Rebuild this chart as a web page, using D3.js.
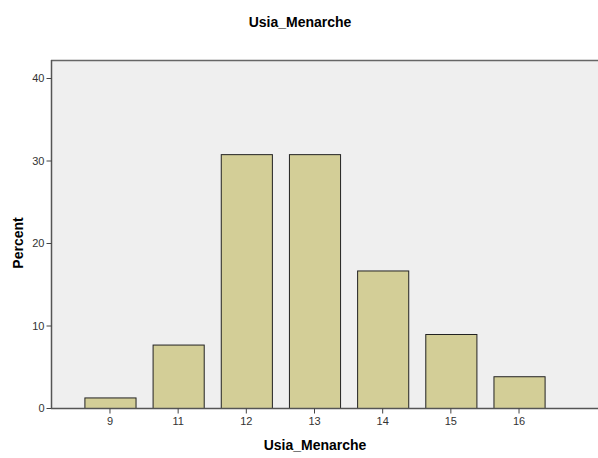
<!DOCTYPE html>
<html>
<head>
<meta charset="utf-8">
<script src="https://cdn.jsdelivr.net/npm/d3@7"></script>
<style>
  body { margin: 0; background: #fff; }
  text { font-family: Arial, "Liberation Sans", sans-serif; }
</style>
</head>
<body>
<svg width="598" height="458"></svg>
<script>
var categories = ["9", "11", "12", "13", "14", "15", "16"],
    percents = [1.28, 7.69, 30.77, 30.77, 16.67, 8.97, 3.85],
    yTicks = [0, 10, 20, 30, 40];

var svg = d3.select("svg"),
    plotLeft = 51, plotTop = 60, plotBottom = 408, plotRight = 598;

var x = d3.scaleBand()
    .domain(categories)
    .range([plotLeft, 578])
    .paddingInner(0.25)
    .paddingOuter(0.49);

var y = d3.scaleLinear()
    .domain([0, 40])
    .range([plotBottom, 78]);

// plot background
svg.append("rect")
    .attr("x", plotLeft).attr("y", plotTop)
    .attr("width", plotRight - plotLeft + 2).attr("height", plotBottom - plotTop)
    .attr("fill", "#efefef");

// frame top
svg.append("line")
    .attr("x1", plotLeft).attr("x2", plotRight)
    .attr("y1", plotTop + 0.5).attr("y2", plotTop + 0.5)
    .attr("stroke", "#666").attr("stroke-width", 1.5);

// bars
svg.append("g").selectAll("rect")
    .data(percents)
    .enter().append("rect")
    .attr("x", function(d, i) { return x(categories[i]) + 0.5; })
    .attr("y", function(d) { return y(d) + 0.5; })
    .attr("width", x.bandwidth())
    .attr("height", function(d) { return plotBottom - y(d); })
    .attr("fill", "#d3ce97")
    .attr("stroke", "#222")
    .attr("stroke-width", 1);

// y axis
var yAxis = svg.append("g")
    .attr("transform", "translate(" + (plotLeft + 0.5) + ",0)")
    .call(d3.axisLeft(y).tickValues(yTicks).tickSize(5).tickPadding(2).tickSizeOuter(0));
yAxis.select(".domain").attr("d", "M0," + plotTop + "V" + plotBottom).attr("stroke", "#555").attr("stroke-width", 1.5);
yAxis.selectAll(".tick line").attr("stroke", "#444");
yAxis.selectAll(".tick text").attr("font-size", 11).attr("fill", "#333");

// x axis
var xAxis = svg.append("g")
    .attr("transform", "translate(0," + (plotBottom + 0.5) + ")")
    .call(d3.axisBottom(x).tickSize(5).tickPadding(4).tickSizeOuter(0));
xAxis.select(".domain").attr("d", "M" + plotLeft + ",0H" + plotRight).attr("stroke", "#555").attr("stroke-width", 1.5);
xAxis.selectAll(".tick line").attr("stroke", "#444");
xAxis.selectAll(".tick text").attr("font-size", 11).attr("fill", "#333");

// titles
svg.append("text")
    .attr("x", 300).attr("y", 27)
    .attr("text-anchor", "middle")
    .attr("font-size", 14).attr("font-weight", "bold")
    .text("Usia_Menarche");

svg.append("text")
    .attr("x", 315).attr("y", 450)
    .attr("text-anchor", "middle")
    .attr("font-size", 14).attr("font-weight", "bold")
    .text("Usia_Menarche");

svg.append("text")
    .attr("transform", "translate(23,243) rotate(-90)")
    .attr("text-anchor", "middle")
    .attr("font-size", 14).attr("font-weight", "bold")
    .text("Percent");
</script>
</body>
</html>
